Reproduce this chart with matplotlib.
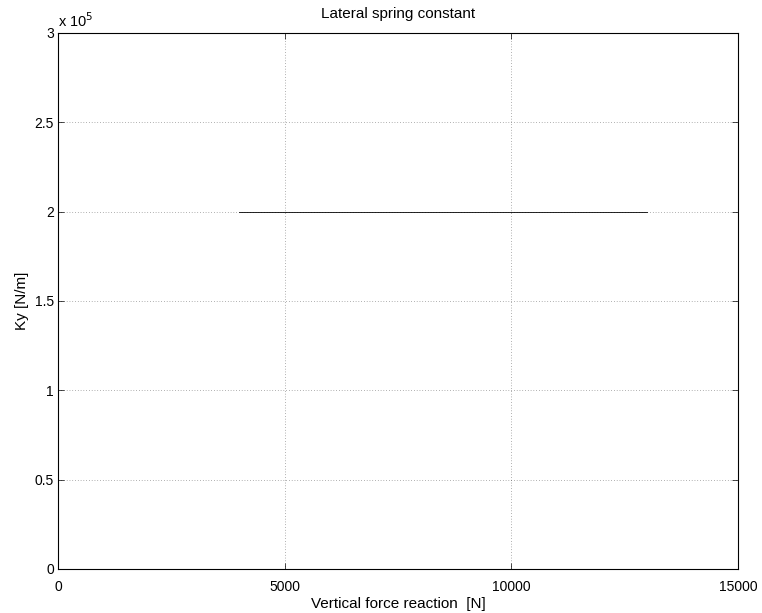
import matplotlib
matplotlib.use("Agg")
import matplotlib.pyplot as plt
import numpy as np

plt.rcParams['font.family'] = ['Liberation Sans', 'DejaVu Sans']

# Vertical load range and the (constant) lateral spring stiffness
fz = np.array([4000, 5000, 6000, 7000, 8000, 9000, 10000, 11000, 12000, 13000])
ky = np.array([2e5, 2e5, 2e5, 2e5, 2e5, 2e5, 2e5, 2e5, 2e5, 2e5])

x_ticks = [0, 5000, 10000, 15000]
y_ticks = [0, 0.5e5, 1e5, 1.5e5, 2e5, 2.5e5, 3e5]
y_tick_labels = ['0', '0.5', '1', '1.5', '2', '2.5', '3']

fig = plt.figure(figsize=(7.62, 6.13), dpi=100)
ax = fig.add_axes([58/762, 44/613, 680/762, 536/613])

ax.plot(fz, ky, color='black', linewidth=0.6)

ax.set_xlim(0, 15000)
ax.set_ylim(0, 3e5)
ax.set_xticks(x_ticks)
ax.set_xticklabels([str(t) for t in x_ticks])
ax.set_yticks(y_ticks)
ax.set_yticklabels(y_tick_labels)

ax.grid(True, color='black', linestyle=(0, (1, 3)), linewidth=0.5, alpha=0.6)
ax.tick_params(direction='in', top=True, right=True, labelsize=10,
               length=4, width=0.5)
ax.tick_params(axis='x', pad=8)
ax.tick_params(axis='y', pad=3)
for s in ax.spines.values():
    s.set_linewidth(0.8)

ax.set_title('Lateral spring constant', fontsize=11, pad=11)
ax.set_xlabel('Vertical force reaction  [N]', fontsize=11, labelpad=2)
ax.set_ylabel('Ky [N/m]', fontsize=11, labelpad=4)

# Shared exponent of the y-axis tick values
ax.text(0, (569 - 27) / 536, r'x 10$^{5}$', transform=ax.transAxes,
        fontsize=10.5, ha='left', va='baseline')

fig.savefig('out.png', dpi=100)
